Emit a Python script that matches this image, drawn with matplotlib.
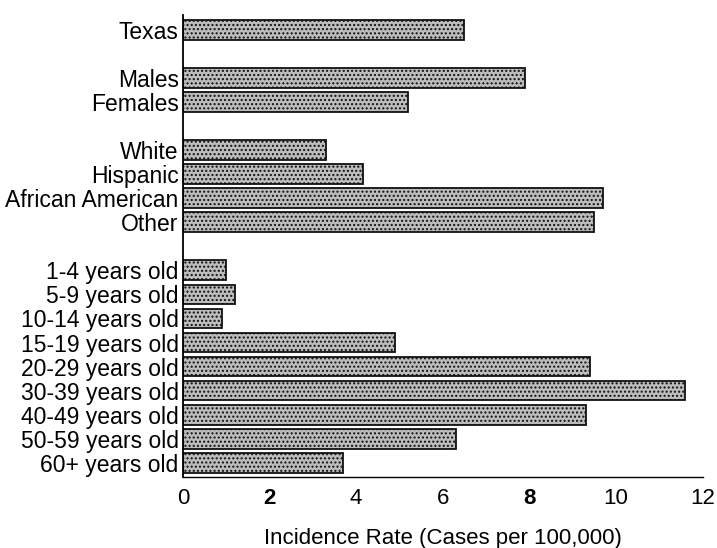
import numpy as np
import matplotlib
matplotlib.use('Agg')
import matplotlib.pyplot as plt

# incidence rate data (cases per 100,000)
labels = ['Texas', 'Males', 'Females', 'White', 'Hispanic', 'African American', 'Other',
          '1-4 years old', '5-9 years old', '10-14 years old', '15-19 years old',
          '20-29 years old', '30-39 years old', '40-49 years old', '50-59 years old',
          '60+ years old']
rates = [6.5, 7.9, 5.2, 3.3, 4.15, 9.7, 9.5,
         1.0, 1.2, 0.9, 4.9, 9.4, 11.6, 9.3, 6.3, 3.7]
# row slots, blank slots separate the groups
slots = [0, 2, 3, 5, 6, 7, 8, 10, 11, 12, 13, 14, 15, 16, 17, 18]
xticks = [0, 2, 4, 6, 8, 10, 12]

plt.rcParams['font.family'] = ['Liberation Sans', 'DejaVu Sans']
plt.rcParams['hatch.color'] = '#909090'

fig = plt.figure(figsize=(7.17, 5.48), dpi=100)
ax = fig.add_axes([0.255, 0.13, 0.725, 0.843])

ax.barh(slots, rates, height=0.82, color='#bdbdbd', edgecolor='#111111',
        linewidth=1.3, hatch='....')

ax.set_xlim(0, 12)
ax.set_ylim(18.58, -0.62)
ax.set_yticks(slots)
ax.set_yticklabels(labels, fontsize=16.5)
ax.set_xticks(xticks)
ax.set_xticklabels([str(t) for t in xticks], fontsize=16)
for lab in ax.get_xticklabels():
    if lab.get_text() in ('2', '8'):
        lab.set_fontweight('bold')
ax.tick_params(axis='y', length=0, pad=3)
ax.tick_params(axis='x', length=0, pad=8)
ax.set_xlabel('Incidence Rate (Cases per 100,000)', fontsize=16, labelpad=14)

ax.spines['top'].set_visible(False)
ax.spines['right'].set_visible(False)
ax.spines['left'].set_linewidth(1.3)
ax.spines['bottom'].set_linewidth(1.0)

fig.savefig('out.png', dpi=100)
